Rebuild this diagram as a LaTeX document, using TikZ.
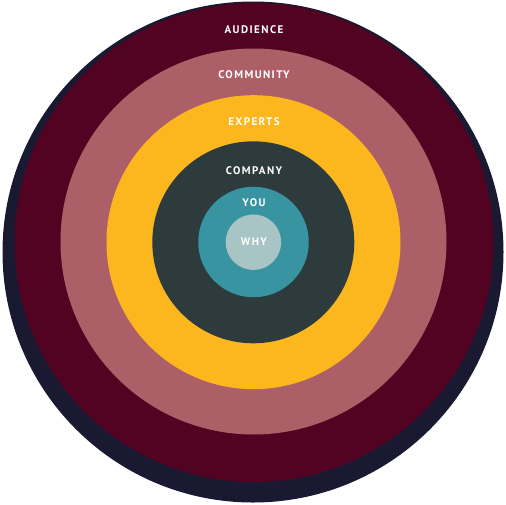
\documentclass[tikz,border=0pt]{standalone}
\usepackage{fontspec}
\newfontfamily\ringfont[LetterSpace=13]{PT Sans}

\definecolor{navy}{RGB}{26,25,50}
\definecolor{maroon}{RGB}{82,3,34}
\definecolor{rose}{RGB}{173,95,104}
\definecolor{amber}{RGB}{253,183,30}
\definecolor{slate}{RGB}{45,59,61}
\definecolor{teal}{RGB}{56,148,161}
\definecolor{mist}{RGB}{168,196,196}

\begin{document}
\begin{tikzpicture}
    [x=1pt, y=-1pt,
     disc/.style={circle, inner sep=0pt},
     word/.style={text=white, font=\ringfont\bfseries\fontsize{11}{13}\selectfont, inner sep=1pt}]
  \useasboundingbox (0,0) rectangle (506,504);

  % rings, outside in
  \node[disc, fill=navy, minimum size=501pt] (edge) at (253,252) {};
  \node[disc, fill=maroon, minimum size=479pt] (audience) at (254,242.5) {};
  \node[disc, fill=rose, minimum size=386pt] (community) at (253.5,241.5) {};
  \node[disc, fill=amber, minimum size=294pt] (experts) at (253.5,242.2) {};
  \node[disc, fill=slate, minimum size=202pt] (company) at (253.3,242.3) {};
  \node[disc, fill=teal, minimum size=110.5pt] (you) at (253.5,242) {};
  \node[disc, fill=mist, minimum size=55.5pt] (why) at (253.4,242.2) {};

  % labels
  \node[word] (A) at (254,30) {AUDIENCE};
  \node[word] (C) at (254,75) {COMMUNITY};
  \node[word] (E) at (254,122) {EXPERTS};
  \node[word] (P) at (254,171) {COMPANY};
  \node[word] (Y) at (254,203) {YOU};
  \node[word] (W) at (254,242) {WHY};
\end{tikzpicture}
\end{document}
